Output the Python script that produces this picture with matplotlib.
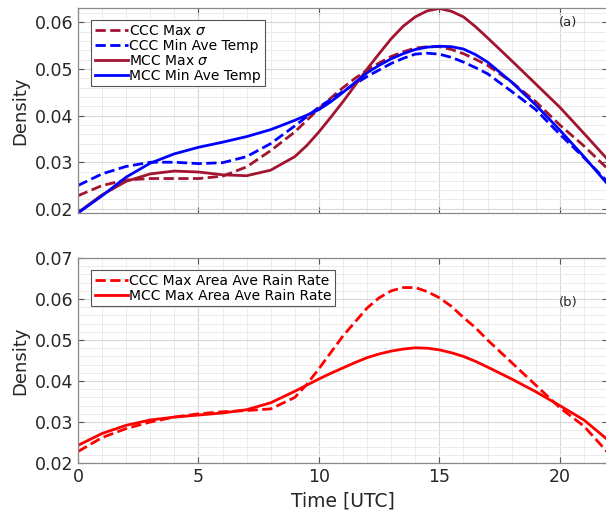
import numpy as np
import matplotlib.pyplot as plt
from matplotlib.ticker import MultipleLocator, FormatStrFormatter

# hours (UTC), half hours around the peaks
hours = [0, 1, 2, 3, 4, 5, 6, 7, 8, 9, 9.5, 10, 10.5, 11, 11.5, 12, 12.5, 13,
         13.5, 14, 14.5, 15, 15.5, 16, 16.5, 17, 18, 19, 20, 21, 22]

# (a) densities
ccc_max_sigma = [0.0228, 0.0250, 0.0262, 0.0265, 0.0265, 0.0265, 0.0270, 0.0290,
                 0.0325, 0.0365, 0.0390, 0.0415, 0.0438, 0.0460, 0.0480, 0.0498,
                 0.0513, 0.0527, 0.0537, 0.0545, 0.0548, 0.0548, 0.0542, 0.0533,
                 0.0521, 0.0508, 0.0472, 0.0430, 0.0380, 0.0335, 0.0285]
ccc_min_temp = [0.0250, 0.0275, 0.0291, 0.0300, 0.0300, 0.0297, 0.0299, 0.0312,
                0.0340, 0.0378, 0.0398, 0.0418, 0.0435, 0.0452, 0.0468, 0.0484,
                0.0498, 0.0512, 0.0523, 0.0532, 0.0534, 0.0532, 0.0525, 0.0515,
                0.0503, 0.0490, 0.0452, 0.0413, 0.0360, 0.0310, 0.0257]
mcc_max_sigma = [0.0192, 0.0230, 0.0259, 0.0275, 0.0281, 0.0279, 0.0273, 0.0271,
                 0.0283, 0.0312, 0.0336, 0.0365, 0.0397, 0.0430, 0.0465, 0.0500,
                 0.0533, 0.0565, 0.0592, 0.0612, 0.0625, 0.0630, 0.0624, 0.0612,
                 0.0591, 0.0567, 0.0518, 0.0468, 0.0418, 0.0362, 0.0305]
mcc_min_temp = [0.0191, 0.0228, 0.0268, 0.0298, 0.0318, 0.0332, 0.0343, 0.0355,
                0.0370, 0.0390, 0.0401, 0.0413, 0.0430, 0.0450, 0.0471, 0.0492,
                0.0508, 0.0522, 0.0533, 0.0542, 0.0547, 0.0549, 0.0548, 0.0543,
                0.0531, 0.0515, 0.0472, 0.0423, 0.0369, 0.0312, 0.0252]

# (b) rain rate densities
ccc_rain = [0.0228, 0.0262, 0.0284, 0.0300, 0.0312, 0.0320, 0.0325, 0.0328,
            0.0332, 0.0360, 0.0392, 0.0430, 0.0470, 0.0510, 0.0544, 0.0578,
            0.0603, 0.0620, 0.0628, 0.0628, 0.0618, 0.0603, 0.0582, 0.0555,
            0.0530, 0.0500, 0.0445, 0.0390, 0.0335, 0.0290, 0.0225]
mcc_rain = [0.0243, 0.0272, 0.0292, 0.0305, 0.0312, 0.0317, 0.0322, 0.0330,
            0.0347, 0.0375, 0.0390, 0.0405, 0.0419, 0.0432, 0.0445, 0.0457,
            0.0466, 0.0473, 0.0478, 0.0481, 0.0480, 0.0476, 0.0469, 0.0460,
            0.0448, 0.0434, 0.0405, 0.0374, 0.0340, 0.0305, 0.0256]

darkred = '#a2142f'
blue = '#0000ff'
red = '#ff0000'
lw = 2.0

fig = plt.figure(figsize=(6.06, 5.14), dpi=100)
ax1 = fig.add_axes([0.1287, 0.5856, 0.8746, 0.3988])
ax2 = fig.add_axes([0.1287, 0.0992, 0.8746, 0.3988])

ax1.plot(hours, ccc_max_sigma, '--', color=darkred, lw=lw, label=r'CCC Max $\sigma$')
ax1.plot(hours, ccc_min_temp, '--', color=blue, lw=lw, label='CCC Min Ave Temp')
ax1.plot(hours, mcc_max_sigma, '-', color=darkred, lw=lw, label=r'MCC Max $\sigma$')
ax1.plot(hours, mcc_min_temp, '-', color=blue, lw=lw, label='MCC Min Ave Temp')

ax2.plot(hours, ccc_rain, '--', color=red, lw=lw, label='CCC Max Area Ave Rain Rate')
ax2.plot(hours, mcc_rain, '-', color=red, lw=lw, label='MCC Max Area Ave Rain Rate')

ax1.set_ylim(0.0191, 0.0631)
ax2.set_ylim(0.02, 0.07)

for ax in (ax1, ax2):
    ax.set_xlim(0, 22)
    ax.xaxis.set_major_locator(MultipleLocator(5))
    ax.xaxis.set_minor_locator(MultipleLocator(1))
    ax.yaxis.set_major_locator(MultipleLocator(0.01))
    ax.yaxis.set_minor_locator(MultipleLocator(0.002))
    ax.yaxis.set_major_formatter(FormatStrFormatter('%.2f'))
    ax.grid(which='major', color='#d8d8d8', lw=0.8)
    ax.grid(which='minor', color='#ebebeb', lw=0.7)
    ax.set_axisbelow(True)
    ax.tick_params(which='major', direction='in', length=4, top=True, right=True,
                   labelsize=12.5, color='#555555', labelcolor='#262626')
    ax.tick_params(which='minor', length=0)
    for s in ax.spines.values():
        s.set_color('#8a8a8a')
        s.set_linewidth(0.9)
    ax.set_ylabel('Density', fontsize=13, color='#262626', labelpad=4)

ax1.tick_params(labelbottom=False)
ax2.set_xlabel('Time [UTC]', fontsize=13.5, color='#262626', labelpad=4)

leg_kw = dict(loc='upper left', fontsize=10, handlelength=2.4, handletextpad=0.1,
              labelspacing=0.08, borderpad=0.25, fancybox=False, framealpha=1,
              edgecolor='#555555')
l1 = ax1.legend(bbox_to_anchor=(0.012, 0.975), **leg_kw)
l2 = ax2.legend(bbox_to_anchor=(0.012, 0.975), **leg_kw)
for l in (l1, l2):
    l.get_frame().set_linewidth(0.8)

ax1.text(0.925, 0.927, '(a)', transform=ax1.transAxes, fontsize=9.5,
         ha='center', va='center', color='#262626')
ax2.text(0.925, 0.785, '(b)', transform=ax2.transAxes, fontsize=9.5,
         ha='center', va='center', color='#262626')

fig.savefig('out.png', dpi=100)
